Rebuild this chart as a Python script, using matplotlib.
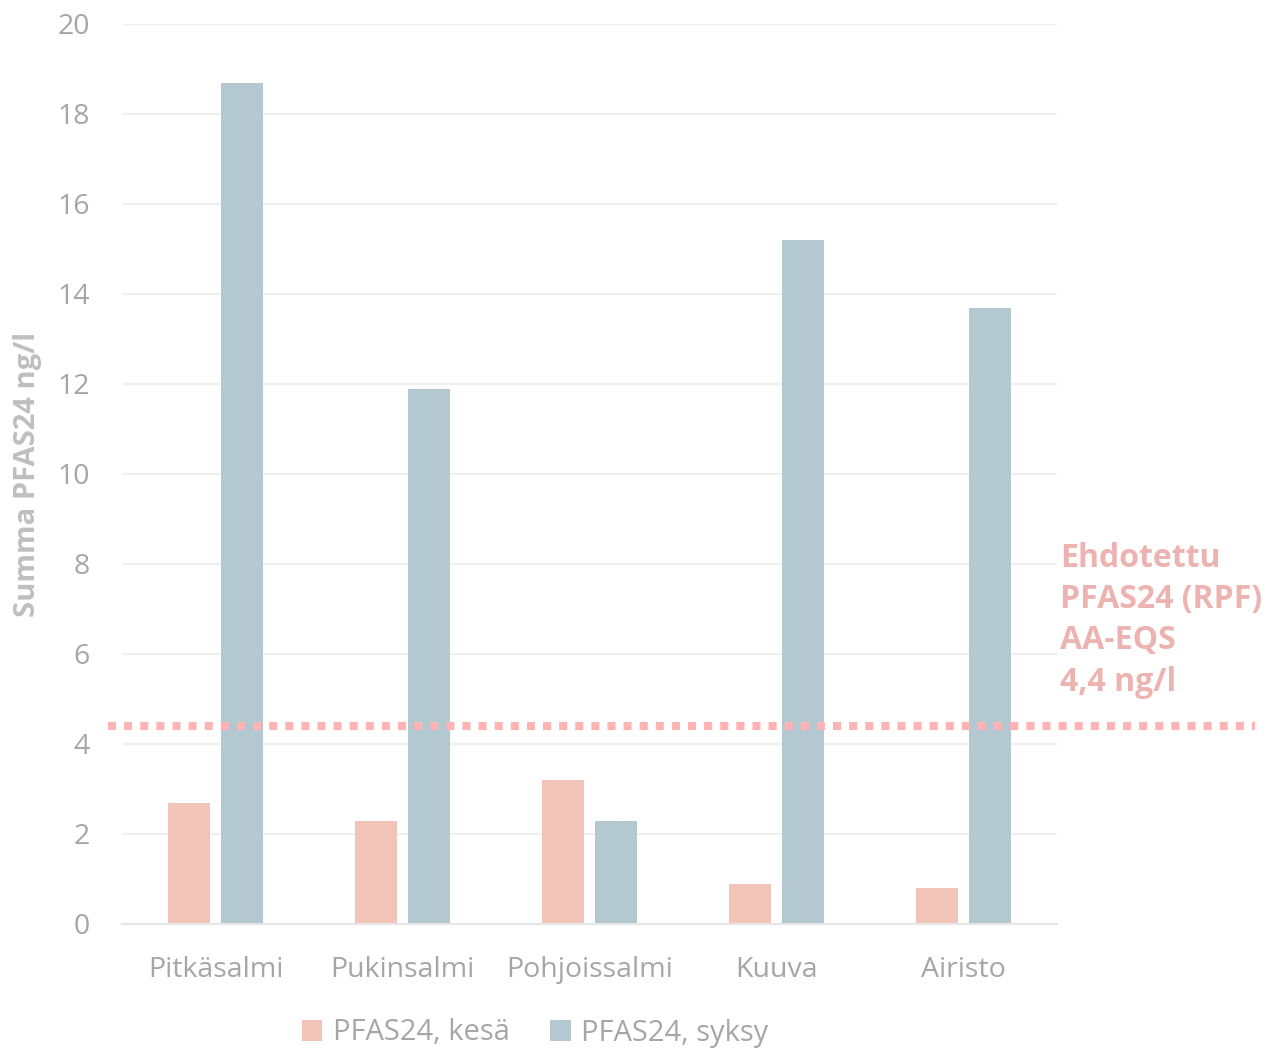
import matplotlib
matplotlib.use("Agg")
import matplotlib.pyplot as plt
import matplotlib.transforms as mtransforms
from matplotlib.patches import Patch
import numpy as np

plt.rcParams['font.family'] = ['Open Sans', 'DejaVu Sans']

# Data
sites = ["Pitkäsalmi", "Pukinsalmi", "Pohjoissalmi", "Kuuva", "Airisto"]
kesa = [2.7, 2.3, 3.2, 0.9, 0.8]
syksy = [18.7, 11.9, 2.3, 15.2, 13.7]
eqs_value = 4.4
yticks = [0, 2, 4, 6, 8, 10, 12, 14, 16, 18, 20]
series_names = ["PFAS24, kesä", "PFAS24, syksy"]
eqs_label = "Ehdotettu\nPFAS24 (RPF)\nAA-EQS\n4,4 ng/l"
ylabel = "Summa PFAS24 ng/l"

c_kesa = "#F2C4B8"
c_syksy = "#B3C8D0"
c_line = "#FFB3B3"
c_text = "#A6A6A6"
c_grid = "#EFEFEF"

fig = plt.figure(figsize=(12.68, 10.51), dpi=100)
ax = fig.add_axes([122/1268, 1 - 924/1051, 935/1268, 900/1051])

x = np.arange(len(sites))
w = 0.225
off = 0.142
ax.bar(x - off, kesa, width=w, color=c_kesa, zorder=2)
ax.bar(x + off, syksy, width=w, color=c_syksy, zorder=2)

ax.set_xlim(-0.5, len(sites) - 0.5)
ax.set_ylim(0, 20)
ax.set_yticks(yticks)
ax.set_yticklabels([str(t) for t in yticks])
ax.set_xticks(x)
ax.set_xticklabels(sites)
ax.tick_params(axis='both', length=0, labelsize=20.5, colors=c_text)
ax.tick_params(axis='y', pad=23)
ax.tick_params(axis='x', pad=23)

ax.grid(axis='y', color=c_grid, linewidth=1.5, zorder=0)
ax.set_axisbelow(True)
for s in ["top", "right", "left"]:
    ax.spines[s].set_visible(False)
ax.spines["bottom"].set_color("#E6E6E6")
ax.spines["bottom"].set_linewidth(1.5)

# Threshold line spanning beyond the plot area
trans = mtransforms.blended_transform_factory(ax.transAxes, ax.transData)
ax.plot([-0.015, 1.2118], [eqs_value, eqs_value], transform=trans,
        color=c_line, linewidth=5.8, linestyle=(0, (1, 1)),
        solid_capstyle='butt', dash_capstyle='butt', clip_on=False, zorder=3)

fig.text(1060/1268, 1 - 542/1051, eqs_label, ha='left', va='top',
         fontsize=23, fontweight='bold', color="#EDB3B1", linespacing=1.33)

fig.text(28/1268, 1 - 474/1051, ylabel, rotation=90, ha='center', va='center',
         fontsize=21, fontweight='bold', color="#BFBFBF")

handles = [Patch(facecolor=c_kesa, edgecolor='none'),
           Patch(facecolor=c_syksy, edgecolor='none')]
fig.legend(handles, series_names, loc='center', bbox_to_anchor=(535/1268, 1 - 1033/1051),
           ncol=2, frameon=False, fontsize=21, labelcolor=c_text,
           handlelength=0.7, handleheight=0.7, handletextpad=0.35, columnspacing=1.4)

fig.savefig("out.png", dpi=100, facecolor='white')
